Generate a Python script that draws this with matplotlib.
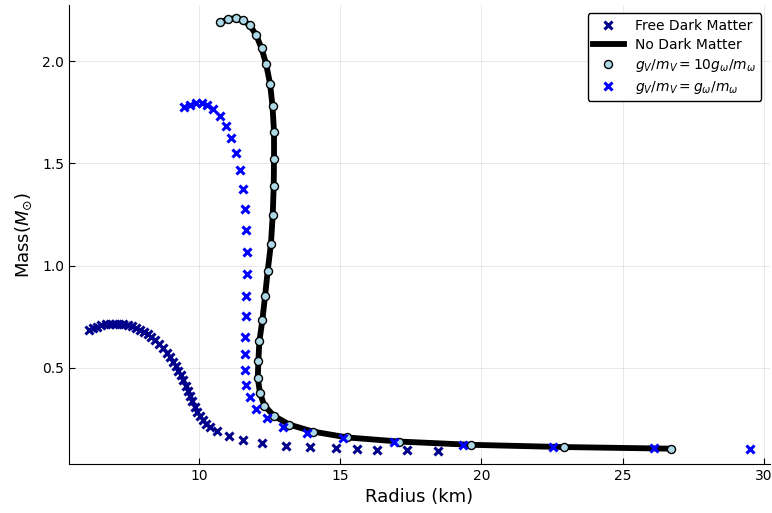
import matplotlib
matplotlib.use("Agg")
import matplotlib.pyplot as plt

# Free dark matter (navy crosses)
free_r = [6.093, 6.234, 6.383, 6.535, 6.694, 6.853, 7.005, 7.161, 7.313, 7.472,
          7.613, 7.748, 7.889, 8.030, 8.172, 8.303, 8.444, 8.575, 8.709, 8.844,
          8.964, 9.081, 9.176, 9.268, 9.353, 9.441, 9.523, 9.593, 9.675, 9.760,
          9.851, 9.936, 10.028, 10.134, 10.248, 10.371, 10.647, 11.061, 11.566,
          12.228, 13.076, 13.943, 14.851, 15.605, 16.312, 17.366, 18.476]
free_m = [0.686, 0.694, 0.702, 0.708, 0.713, 0.716, 0.716, 0.716, 0.714, 0.711,
          0.704, 0.696, 0.687, 0.676, 0.664, 0.650, 0.634, 0.615, 0.596, 0.574,
          0.551, 0.529, 0.507, 0.485, 0.463, 0.439, 0.413, 0.387, 0.360, 0.336,
          0.310, 0.286, 0.262, 0.243, 0.223, 0.208, 0.190, 0.168, 0.147,
          0.132, 0.119, 0.110, 0.105, 0.102, 0.099, 0.097, 0.093]

# No dark matter / gV/mV = 10 gw/mw (line + circles)
nodm_r = [10.743, 11.025, 11.298, 11.556, 11.793, 12.016, 12.210, 12.369, 12.511,
          12.599, 12.652, 12.652, 12.641, 12.606, 12.542, 12.429, 12.334, 12.238,
          12.132, 12.097, 12.076, 12.153, 12.309, 12.645, 13.190, 14.020, 15.248,
          17.083, 19.629, 22.910, 26.722]
nodm_m = [2.190, 2.206, 2.211, 2.200, 2.176, 2.130, 2.064, 1.988, 1.891,
          1.779, 1.653, 1.523, 1.389, 1.247, 1.106, 0.975, 0.850, 0.732,
          0.629, 0.531, 0.452, 0.377, 0.315, 0.265, 0.222, 0.188, 0.159,
          0.139, 0.123, 0.112, 0.104]

# gV/mV = gw/mw (blue crosses)
eq_r = [9.452, 9.682, 9.894, 10.088, 10.283, 10.506, 10.743, 10.955, 11.132,
        11.308, 11.439, 11.556, 11.627, 11.662, 11.697, 11.687, 11.662, 11.644,
        11.627, 11.609, 11.616, 11.669, 11.786, 12.026, 12.387, 12.953, 13.837,
        15.092, 16.895, 19.346, 22.542, 26.114, 29.508]
eq_m = [1.777, 1.787, 1.794, 1.794, 1.787, 1.765, 1.731, 1.684, 1.627,
        1.553, 1.470, 1.377, 1.277, 1.173, 1.066, 0.959, 0.852, 0.751,
        0.653, 0.568, 0.490, 0.417, 0.355, 0.300, 0.255, 0.212, 0.183,
        0.158, 0.137, 0.123, 0.111, 0.106, 0.101]

xticks = [10, 15, 20, 25, 30]
yticks = [0.5, 1.0, 1.5, 2.0]

fig = plt.figure(figsize=(7.72, 5.13), dpi=100)
ax = fig.add_axes([0.0894, 0.0955, 0.9076, 0.8945])

ax.plot(free_r, free_m, linestyle="none", marker="x", color="darkblue",
        markersize=5.5, markeredgewidth=2.2, label="Free Dark Matter", zorder=3)
ax.plot(nodm_r, nodm_m, color="black", linewidth=4.2, label="No Dark Matter", zorder=4)
ax.plot(nodm_r, nodm_m, linestyle="none", marker="o", markerfacecolor="lightblue",
        markeredgecolor="black", markeredgewidth=1.0, markersize=5.8,
        label=r"$g_V/m_V = 10g_\omega/m_\omega$", zorder=5)
ax.plot(eq_r, eq_m, linestyle="none", marker="x", color="blue",
        markersize=5.5, markeredgewidth=2.2, label=r"$g_V/m_V = g_\omega/m_\omega$", zorder=6)

ax.set_xlim(5.39, 30.21)
ax.set_ylim(0.029, 2.275)
ax.set_xticks(xticks)
ax.set_yticks(yticks)
ax.set_yticklabels(["0.5", "1.0", "1.5", "2.0"])
ax.tick_params(direction="in", length=4, labelsize=10)
ax.grid(True, color="black", alpha=0.1, linewidth=0.6)
ax.spines["top"].set_visible(False)
ax.spines["right"].set_visible(False)
ax.set_xlabel("Radius (km)", fontsize=13)
ax.set_ylabel(r"Mass($M_{\odot}$)", fontsize=13, labelpad=6)

leg = ax.legend(loc="upper right", fontsize=10, frameon=True, fancybox=True,
                edgecolor="black", framealpha=1.0, borderaxespad=0.6,
                labelspacing=0.35, handlelength=2.2)
leg.get_frame().set_linewidth(1.0)
leg.get_frame().set_boxstyle("round", pad=0.0, rounding_size=0.2)

fig.savefig("out.png", dpi=100)
